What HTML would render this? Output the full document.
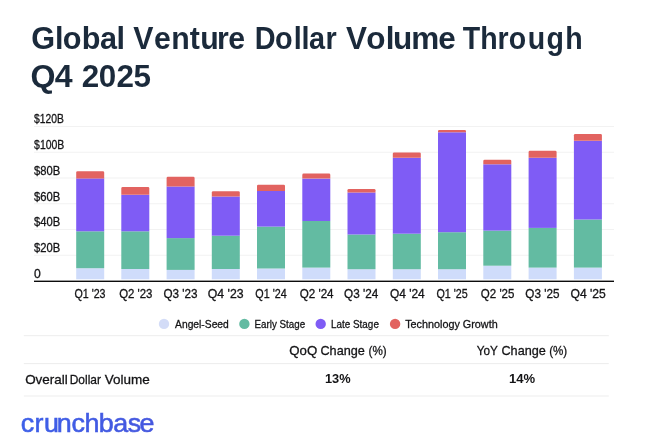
<!DOCTYPE html>
<html lang="en"><head><meta charset="utf-8"><title>Global Venture Dollar Volume Through Q4 2025</title>
<style>
html,body{margin:0;padding:0;background:#fff;}
body{width:658px;height:441px;overflow:hidden;font-family:"Liberation Sans",sans-serif;}
svg{display:block;will-change:transform;}
text{font-family:"Liberation Sans",sans-serif;fill:#141416;}
.ax,.lg,.tb{stroke:#141416;stroke-width:0.3px;}
.t{font-weight:700;fill:#1b2a3b;}
.b{font-weight:700;}
.logo{fill:url(#lg);stroke:url(#lg);stroke-width:0.55px;}
</style></head><body>
<svg width="658" height="441" viewBox="0 0 658 441">
<defs><linearGradient id="lg" gradientUnits="userSpaceOnUse" x1="0" y1="0" x2="260" y2="0"><stop offset="0" stop-color="#3b60ea"/><stop offset="1" stop-color="#4d50d6"/></linearGradient></defs>
<rect width="658" height="441" fill="#ffffff"/>

<text class="t" transform="translate(0 49.10) scale(0.9556 1)" font-size="32.10" x="32.72 57.60 65.62 85.61 104.56 122.01">Global</text>
<text class="t" transform="translate(0 49.10) scale(0.9436 1)" font-size="32.10" x="141.16 163.14 181.42 201.16 212.17 229.96 241.77">Venture</text>
<text class="t" transform="translate(0 49.10) scale(0.8991 1)" font-size="32.10" x="283.29 305.75 326.65 335.43 343.61 362.08">Dollar</text>
<text class="t" transform="translate(0 49.10) scale(0.9816 1)" font-size="32.10" x="352.48 373.03 392.97 400.31 418.91 446.57">Volume</text>
<text class="t" transform="translate(0 49.10) scale(0.8892 1)" font-size="32.10" x="520.34 540.07 559.38 572.24 593.46 614.58 635.61">Through</text>
<text class="t" transform="translate(0 87.00) scale(1.0004 1)" font-size="32.10" x="30.39 54.80">Q4</text>
<text class="t" transform="translate(0 87.00) scale(0.9782 1)" font-size="32.10" x="83.64 101.04 119.07 136.59">2025</text>
<rect x="34" y="254.75" width="580" height="1" fill="#f2f2f2"/>
<rect x="34" y="229.00" width="580" height="1" fill="#f2f2f2"/>
<rect x="34" y="203.25" width="580" height="1" fill="#f2f2f2"/>
<rect x="34" y="177.50" width="580" height="1" fill="#f2f2f2"/>
<rect x="34" y="151.75" width="580" height="1" fill="#f2f2f2"/>
<rect x="34" y="126.00" width="580" height="1" fill="#f2f2f2"/>
<text class="ax" transform="translate(33.91 277.90) scale(0.9949 1)" font-size="12.21">0</text>
<text class="ax" transform="translate(34.09 252.15) scale(0.9191 1)" font-size="12.21">$20B</text>
<text class="ax" transform="translate(34.09 226.40) scale(0.9191 1)" font-size="12.21">$40B</text>
<text class="ax" transform="translate(34.09 200.65) scale(0.9191 1)" font-size="12.21">$60B</text>
<text class="ax" transform="translate(34.09 174.90) scale(0.9191 1)" font-size="12.21">$80B</text>
<text class="ax" transform="translate(34.10 149.15) scale(0.8567 1)" font-size="12.21">$100B</text>
<text class="ax" transform="translate(34.10 123.40) scale(0.8451 1)" font-size="12.21">$120B</text>
<rect x="76.2" y="268.2" width="28.0" height="11.1" fill="#cfdcfb"/>
<rect x="76.2" y="231.3" width="28.0" height="36.9" fill="#63bba2"/>
<rect x="76.2" y="178.4" width="28.0" height="52.9" fill="#7f5cf5"/>
<path d="M76.2 178.4V172.5Q76.2 171.2 77.5 171.2H102.9Q104.2 171.2 104.2 172.5V178.4Z" fill="#e26360"/>
<rect x="121.3" y="269.0" width="28.0" height="10.3" fill="#cfdcfb"/>
<rect x="121.3" y="231.3" width="28.0" height="37.7" fill="#63bba2"/>
<rect x="121.3" y="194.8" width="28.0" height="36.5" fill="#7f5cf5"/>
<path d="M121.3 194.8V188.4Q121.3 187.1 122.6 187.1H148.0Q149.3 187.1 149.3 188.4V194.8Z" fill="#e26360"/>
<rect x="166.6" y="269.9" width="28.0" height="9.4" fill="#cfdcfb"/>
<rect x="166.6" y="238.1" width="28.0" height="31.8" fill="#63bba2"/>
<rect x="166.6" y="186.5" width="28.0" height="51.6" fill="#7f5cf5"/>
<path d="M166.6 186.5V178.1Q166.6 176.8 167.9 176.8H193.3Q194.6 176.8 194.6 178.1V186.5Z" fill="#e26360"/>
<rect x="211.8" y="269.0" width="28.0" height="10.3" fill="#cfdcfb"/>
<rect x="211.8" y="235.7" width="28.0" height="33.3" fill="#63bba2"/>
<rect x="211.8" y="196.5" width="28.0" height="39.2" fill="#7f5cf5"/>
<path d="M211.8 196.5V192.5Q211.8 191.2 213.1 191.2H238.5Q239.8 191.2 239.8 192.5V196.5Z" fill="#e26360"/>
<rect x="257.0" y="268.5" width="28.0" height="10.8" fill="#cfdcfb"/>
<rect x="257.0" y="226.6" width="28.0" height="41.9" fill="#63bba2"/>
<rect x="257.0" y="191.0" width="28.0" height="35.6" fill="#7f5cf5"/>
<path d="M257.0 191.0V186.1Q257.0 184.8 258.3 184.8H283.7Q285.0 184.8 285.0 186.1V191.0Z" fill="#e26360"/>
<rect x="302.3" y="267.6" width="28.0" height="11.7" fill="#cfdcfb"/>
<rect x="302.3" y="221.0" width="28.0" height="46.6" fill="#63bba2"/>
<rect x="302.3" y="178.6" width="28.0" height="42.4" fill="#7f5cf5"/>
<path d="M302.3 178.6V174.9Q302.3 173.6 303.6 173.6H329.0Q330.3 173.6 330.3 174.9V178.6Z" fill="#e26360"/>
<rect x="347.5" y="269.2" width="28.0" height="10.1" fill="#cfdcfb"/>
<rect x="347.5" y="234.5" width="28.0" height="34.7" fill="#63bba2"/>
<rect x="347.5" y="192.5" width="28.0" height="42.0" fill="#7f5cf5"/>
<path d="M347.5 192.5V190.3Q347.5 189.0 348.8 189.0H374.2Q375.5 189.0 375.5 190.3V192.5Z" fill="#e26360"/>
<rect x="392.8" y="269.2" width="28.0" height="10.1" fill="#cfdcfb"/>
<rect x="392.8" y="233.7" width="28.0" height="35.5" fill="#63bba2"/>
<rect x="392.8" y="157.8" width="28.0" height="75.9" fill="#7f5cf5"/>
<path d="M392.8 157.8V153.7Q392.8 152.4 394.1 152.4H419.5Q420.8 152.4 420.8 153.7V157.8Z" fill="#e26360"/>
<rect x="438.0" y="269.2" width="28.0" height="10.1" fill="#cfdcfb"/>
<rect x="438.0" y="232.2" width="28.0" height="37.0" fill="#63bba2"/>
<rect x="438.0" y="132.3" width="28.0" height="99.9" fill="#7f5cf5"/>
<path d="M438.0 132.3V131.3Q438.0 130.0 439.3 130.0H464.7Q466.0 130.0 466.0 131.3V132.3Z" fill="#e26360"/>
<rect x="483.3" y="265.7" width="28.0" height="13.6" fill="#cfdcfb"/>
<rect x="483.3" y="230.6" width="28.0" height="35.1" fill="#63bba2"/>
<rect x="483.3" y="164.3" width="28.0" height="66.3" fill="#7f5cf5"/>
<path d="M483.3 164.3V161.0Q483.3 159.7 484.6 159.7H510.0Q511.3 159.7 511.3 161.0V164.3Z" fill="#e26360"/>
<rect x="528.6" y="267.6" width="28.0" height="11.7" fill="#cfdcfb"/>
<rect x="528.6" y="227.9" width="28.0" height="39.7" fill="#63bba2"/>
<rect x="528.6" y="157.8" width="28.0" height="70.1" fill="#7f5cf5"/>
<path d="M528.6 157.8V152.1Q528.6 150.8 529.9 150.8H555.3Q556.6 150.8 556.6 152.1V157.8Z" fill="#e26360"/>
<rect x="573.9" y="267.6" width="28.0" height="11.7" fill="#cfdcfb"/>
<rect x="573.9" y="219.5" width="28.0" height="48.1" fill="#63bba2"/>
<rect x="573.9" y="140.8" width="28.0" height="78.7" fill="#7f5cf5"/>
<path d="M573.9 140.8V135.2Q573.9 133.9 575.2 133.9H600.6Q601.9 133.9 601.9 135.2V140.8Z" fill="#e26360"/>
<text class="ax" transform="translate(74.49 297.60) scale(0.8832 1)" font-size="12.06">Q1 '23</text>
<text class="ax" transform="translate(119.16 297.60) scale(0.9478 1)" font-size="12.06">Q2 '23</text>
<text class="ax" transform="translate(163.44 297.60) scale(0.9712 1)" font-size="12.06">Q3 '23</text>
<text class="ax" transform="translate(207.82 297.60) scale(1.0182 1)" font-size="12.06">Q4 '23</text>
<text class="ax" transform="translate(255.29 297.60) scale(0.8931 1)" font-size="12.06">Q1 '24</text>
<text class="ax" transform="translate(299.65 297.60) scale(0.9661 1)" font-size="12.06">Q2 '24</text>
<text class="ax" transform="translate(344.04 297.60) scale(0.9749 1)" font-size="12.06">Q3 '24</text>
<text class="ax" transform="translate(389.93 297.60) scale(0.9894 1)" font-size="12.06">Q4 '24</text>
<text class="ax" transform="translate(436.39 297.60) scale(0.8883 1)" font-size="12.06">Q1 '25</text>
<text class="ax" transform="translate(480.85 297.60) scale(0.9557 1)" font-size="12.06">Q2 '25</text>
<text class="ax" transform="translate(525.34 297.60) scale(0.9704 1)" font-size="12.06">Q3 '25</text>
<text class="ax" transform="translate(570.52 297.60) scale(1.0055 1)" font-size="12.06">Q4 '25</text>
<rect x="34" y="280.6" width="580" height="1.4" fill="#0c0c0c"/>
<circle cx="164.0" cy="323.9" r="5.2" fill="#d3dcf7"/>
<text class="lg" transform="translate(175.07 327.50) scale(0.8850 1)" font-size="11.63">Angel-Seed</text>
<circle cx="244.4" cy="323.9" r="5.2" fill="#63bba2"/>
<text class="lg" transform="translate(254.49 327.50) scale(0.8425 1)" font-size="11.63">Early Stage</text>
<circle cx="320.7" cy="323.9" r="5.2" fill="#7f5cf5"/>
<text class="lg" transform="translate(330.98 327.50) scale(0.8522 1)" font-size="11.63">Late Stage</text>
<circle cx="395.1" cy="323.9" r="5.2" fill="#e26360"/>
<text class="lg" transform="translate(405.16 327.50) scale(0.9308 1)" font-size="11.63">Technology Growth</text>
<rect x="23.8" y="335.2" width="585" height="1" fill="#ededed"/>
<rect x="23.8" y="363.1" width="585" height="1" fill="#ededed"/>
<rect x="23.8" y="395.5" width="585" height="1" fill="#ededed"/>
<text class="tb" transform="translate(289.27 355.10) scale(1.0230 1)" font-size="12.94">QoQ</text>
<text class="tb" transform="translate(320.47 355.10) scale(0.9793 1)" font-size="12.94">Change</text>
<text class="tb" transform="translate(368.57 355.10) scale(0.9028 1)" font-size="12.94">(%)</text>
<text class="tb" transform="translate(476.74 355.10) scale(0.9074 1)" font-size="12.94">YoY</text>
<text class="tb" transform="translate(501.47 355.10) scale(0.9793 1)" font-size="12.94">Change</text>
<text class="tb" transform="translate(549.17 355.10) scale(0.8974 1)" font-size="12.94">(%)</text>
<text class="tb" transform="translate(25.16 383.70) scale(1.0069 1)" font-size="13.37">Overall</text>
<text class="tb" transform="translate(69.71 383.70) scale(0.8950 1)" font-size="13.37">Dollar</text>
<text class="tb" transform="translate(104.73 383.70) scale(1.0100 1)" font-size="13.37">Volume</text>
<text class="b" transform="translate(324.90 383.10) scale(0.9580 1)" font-size="13.37">13%</text>
<text class="b" transform="translate(508.88 383.10) scale(0.9776 1)" font-size="13.37">14%</text>
<text class="logo" transform="translate(0 432.00) scale(1.0503 1)" font-size="25.60" x="19.78 32.92 41.79 53.99 68.06 80.43 94.03 107.85 121.52 132.86">crunchbase</text>
</svg></body></html>
